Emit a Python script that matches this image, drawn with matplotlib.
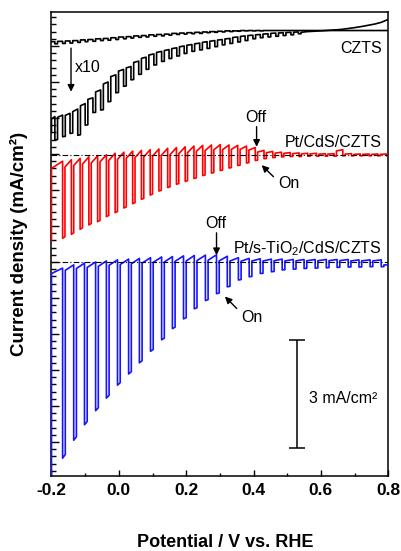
import numpy as np
import matplotlib
matplotlib.use('Agg')
import matplotlib.pyplot as plt
from matplotlib.ticker import MultipleLocator

plt.rcParams['font.family'] = ['Liberation Sans', 'DejaVu Sans']
plt.rcParams['mathtext.fontset'] = 'custom'
plt.rcParams['mathtext.rm'] = 'Liberation Sans'
plt.rcParams['mathtext.it'] = 'Liberation Sans:italic'
plt.rcParams['mathtext.bf'] = 'Liberation Sans:bold'
plt.rcParams['axes.unicode_minus'] = False

# ---- data (mA/cm^2, curves stacked with offsets as in the figure) ----
# Pt/s-TiO2/CdS/CZTS (blue): potential of each light chop, dark level, light level
blue_chop_v = [-0.167, -0.134, -0.102, -0.069, -0.037, -0.004, 0.029, 0.061,
               0.094, 0.127, 0.159, 0.192, 0.224, 0.257, 0.290, 0.322, 0.355,
               0.387, 0.420, 0.453, 0.485, 0.518, 0.550, 0.583, 0.616, 0.648,
               0.681, 0.713, 0.746, 0.779]
blue_dark = [4.83, 4.92, 4.97, 5.00, 5.03, 5.06, 5.08, 5.10, 5.12, 5.14, 5.15,
             5.17, 5.18, 5.19, 5.20, 5.16, 5.12, 5.10, 5.09, 5.08, 5.08, 5.07,
             5.07, 5.07, 5.07, 5.07, 5.07, 5.06, 5.06, 5.06]
blue_light = [-0.45, 0.05, 0.48, 0.87, 1.22, 1.58, 1.89, 2.20, 2.52, 2.84,
              3.15, 3.42, 3.70, 3.93, 4.12, 4.31, 4.50, 4.59, 4.68, 4.73,
              4.78, 4.80, 4.82, 4.83, 4.84, 4.85, 4.86, 4.86, 4.87, 4.87]
blue_start = -0.92
blue_end = 4.92
blue_zero = 5.0

# Pt/CdS/CZTS (red)
red_chop_v = [-0.167, -0.141, -0.115, -0.089, -0.063, -0.037, -0.011, 0.015,
              0.041, 0.067, 0.093, 0.119, 0.145, 0.171, 0.197, 0.223, 0.249,
              0.275, 0.301, 0.327, 0.353, 0.379, 0.405, 0.431, 0.457, 0.483,
              0.509, 0.535, 0.561, 0.587, 0.613, 0.639, 0.665, 0.691, 0.717,
              0.743, 0.769, 0.795]
red_dark = [7.80, 7.84, 7.88, 7.92, 7.95, 7.98, 8.02, 8.05, 8.08, 8.10, 8.12,
            8.14, 8.16, 8.18, 8.20, 8.22, 8.24, 8.25, 8.26, 8.25, 8.24, 8.22,
            8.18, 8.10, 8.07, 8.05, 8.04, 8.03, 8.02, 8.02, 8.01, 8.01, 8.12,
            8.01, 8.00, 8.00, 8.00, 8.00]
red_light = [5.66, 5.77, 5.91, 6.03, 6.12, 6.26, 6.37, 6.50, 6.62, 6.74, 6.86,
             6.97, 7.07, 7.16, 7.24, 7.32, 7.40, 7.47, 7.54, 7.61, 7.68, 7.75,
             7.82, 7.87, 7.90, 7.92, 7.93, 7.93, 7.94, 7.94, 7.94, 7.94, 7.95,
             7.95, 7.95, 7.95, 7.95, 7.95]
red_start = 5.61
red_end = 7.97
red_zero = 7.97

# CZTS (black), x1 and x10
czts_chop_v = [-0.190, -0.167, -0.145, -0.122, -0.100, -0.077, -0.054, -0.032,
               -0.009, 0.014, 0.036, 0.059, 0.081, 0.104, 0.127, 0.149, 0.172,
               0.194, 0.217, 0.240, 0.262, 0.285, 0.307, 0.330, 0.353, 0.375,
               0.398, 0.420, 0.443, 0.466, 0.488, 0.511, 0.533]
x10_dark = [9.04, 9.08, 9.13, 9.25, 9.40, 9.56, 9.78, 10.00, 10.20, 10.35,
            10.43, 10.58, 10.69, 10.78, 10.85, 10.90, 10.95, 11.00, 11.04,
            11.08, 11.12, 11.15, 11.18, 11.21, 11.25, 11.28, 11.30, 11.32,
            11.34, 11.36, 11.37, 11.38, 11.39]
x10_light = [8.39, 8.48, 8.57, 8.52, 8.80, 9.15, 9.22, 9.45, 9.70, 9.88,
             10.06, 10.21, 10.35, 10.47, 10.57, 10.65, 10.72, 10.79, 10.85,
             10.89, 10.93, 10.98, 11.03, 11.07, 11.11, 11.15, 11.20, 11.23,
             11.25, 11.27, 11.29, 11.31, 11.34]
x10_start = 8.60
x10_tail_v = [0.56, 0.60, 0.66, 0.70, 0.72, 0.76, 0.78, 0.80]
x10_tail_j = [11.40, 11.42, 11.46, 11.51, 11.54, 11.61, 11.66, 11.74]

x1_dark = [11.12, 11.13, 11.14, 11.15, 11.17, 11.18, 11.20, 11.21, 11.23,
           11.25, 11.26, 11.28, 11.29, 11.31, 11.32, 11.33, 11.35, 11.36,
           11.37, 11.38, 11.39, 11.40, 11.41, 11.42, 11.42, 11.43, 11.43,
           11.43, 11.43, 11.43, 11.43, 11.43, 11.43]
x1_light = [11.06, 11.07, 11.08, 11.10, 11.12, 11.13, 11.15, 11.16, 11.18,
            11.20, 11.22, 11.24, 11.25, 11.27, 11.28, 11.30, 11.32, 11.33,
            11.34, 11.35, 11.37, 11.38, 11.39, 11.40, 11.41, 11.42, 11.42,
            11.42, 11.43, 11.43, 11.43, 11.43, 11.43]
x1_end = 11.43

scale_bar = 3.0  # mA/cm^2


def chopped(v_chop, dark, light, start, width, sag):
    """Build the chopped-light trace: slow rise in the dark, sharp drop when
    light is switched on, short plateau, sharp recovery when off."""
    xs = [-0.2, -0.2]
    amp0 = dark[0] - light[0]
    ys = [start, dark[0] - sag * min(1.0, amp0)]
    for i in range(len(v_chop)):
        xs += [v_chop[i], v_chop[i], v_chop[i] + width]
        ys += [dark[i], light[i], light[i] + 0.02 * (dark[i] - light[i])]
        if i + 1 < len(v_chop):
            amp = dark[i + 1] - light[i + 1]
            xs.append(v_chop[i] + width)
            ys.append(dark[i + 1] - sag * min(1.0, amp))
    return np.array(xs), np.array(ys)


fig = plt.figure(figsize=(4.01, 5.51), dpi=100)
ax = fig.add_axes([0.1284, 0.1361, 0.8399, 0.8421])

# blue
bx, by = chopped(blue_chop_v, blue_dark, blue_light, blue_start, 0.008, 0.15)
bx = np.append(bx, [bx[-1], 0.8])
by = np.append(by, [blue_end, blue_end])
ax.plot(bx, by, color='#1414ff', lw=1.2, zorder=3)

# red
rx, ry = chopped(red_chop_v, red_dark, red_light, red_start, 0.007, 0.2)
rx = np.append(rx, [rx[-1], 0.8])
ry = np.append(ry, [red_end, red_end])
ax.plot(rx, ry, color='#ff0000', lw=1.2, zorder=3)

# CZTS x10
kx, ky = chopped(czts_chop_v, x10_dark, x10_light, x10_start, 0.008, 0.1)
kx = np.concatenate([kx, [kx[-1]], x10_tail_v])
ky = np.concatenate([ky, [x10_tail_j[0] - 0.02], x10_tail_j])
ax.plot(kx, ky, color='black', lw=1.2, zorder=3)

# CZTS x1
cx, cy = chopped(czts_chop_v, x1_dark, x1_light, x1_dark[0], 0.008, 0.02)
cx = np.append(cx, [cx[-1], 0.8])
cy = np.append(cy, [x1_end, x1_end])
ax.plot(cx, cy, color='black', lw=1.2, zorder=3)

# dark-current reference lines
for yz in (red_zero, blue_zero):
    ax.axhline(yz, color='black', lw=0.8, ls=(0, (5, 2, 1, 2)), zorder=4)

# annotations
arrow = dict(arrowstyle='-|>', color='black', lw=1.0, mutation_scale=10,
             shrinkA=0, shrinkB=0)
ax.annotate('', xy=(-0.142, 9.73), xytext=(-0.142, 10.94), arrowprops=arrow)
ax.text(-0.130, 10.40, 'x10', fontsize=11.5, ha='left', va='center')
ax.text(0.781, 10.92, 'CZTS', fontsize=11.5, ha='right', va='center')

ax.text(0.406, 9.01, 'Off', fontsize=11.5, ha='center', va='center')
ax.annotate('', xy=(0.409, 8.20), xytext=(0.409, 8.76), arrowprops=arrow)
ax.text(0.781, 8.32, 'Pt/CdS/CZTS', fontsize=11.5, ha='right', va='center')
ax.annotate('', xy=(0.424, 7.69), xytext=(0.459, 7.37), arrowprops=arrow)
ax.text(0.505, 7.17, 'On', fontsize=11.5, ha='center', va='center')

ax.text(0.288, 6.06, 'Off', fontsize=11.5, ha='center', va='center')
ax.annotate('', xy=(0.290, 5.19), xytext=(0.290, 5.81), arrowprops=arrow)
ax.text(0.781, 5.36, 'Pt/s-TiO$_2$/CdS/CZTS', fontsize=11.5, ha='right',
        va='center')
ax.annotate('', xy=(0.315, 4.04), xytext=(0.350, 3.71), arrowprops=arrow)
ax.text(0.394, 3.46, 'On', fontsize=11.5, ha='center', va='center')

# scale bar
ax.errorbar([0.529], [-0.17 + scale_bar / 2], yerr=[scale_bar / 2],
            color='black', lw=1.1, capsize=6, capthick=1.1)
ax.text(0.565, 1.22, '3 mA/cm\u00b2', fontsize=11.5, ha='left', va='center')

ax.set_xlim(-0.2, 0.8)
ax.set_ylim(-0.944, 11.944)
ax.xaxis.set_major_locator(MultipleLocator(0.2))
ax.xaxis.set_minor_locator(MultipleLocator(0.1))
ax.yaxis.set_major_locator(MultipleLocator(1.0))
ax.yaxis.set_minor_locator(MultipleLocator(0.2))
ax.tick_params(which='both', direction='in', top=False, right=False,
               labelleft=False, width=1.0)
ax.tick_params(axis='x', which='major', length=4, pad=5)
ax.tick_params(axis='x', which='minor', length=2.5)
ax.tick_params(axis='y', which='major', length=5.5)
ax.tick_params(axis='y', which='minor', length=3.5)
for lab in ax.get_xticklabels():
    lab.set_fontweight('bold')
    lab.set_fontsize(12.5)
for sp in ax.spines.values():
    sp.set_linewidth(1.1)

ax.set_xlabel('Potential / V vs. RHE', fontsize=13, fontweight='bold')
ax.xaxis.set_label_coords(0.515, -0.125)
ax.set_ylabel('Current density (mA/cm\u00b2)', fontsize=13.5, fontweight='bold')
ax.yaxis.set_label_coords(-0.07, 0.5)

fig.savefig('out.png', dpi=100)
